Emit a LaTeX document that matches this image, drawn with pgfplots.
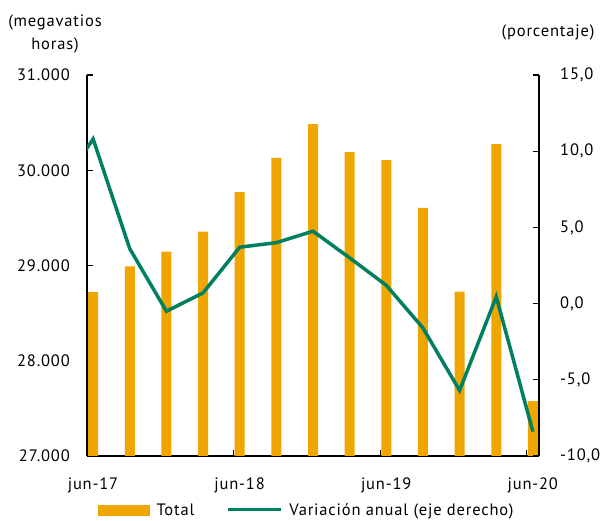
\documentclass[border=0pt]{standalone}
\usepackage{pgfplots}
\pgfplotsset{compat=1.18}
\usepackage{fontspec}
\setmainfont[LetterSpace=5]{PT Sans}
\definecolor{barc}{RGB}{240,166,0}
\definecolor{linec}{RGB}{0,128,96}
\begin{document}
\begin{tikzpicture}[font=\fontsize{16.5pt}{19pt}\selectfont]
\useasboundingbox (0,0) rectangle (604pt,521pt);
\begin{axis}[
  at={(87pt,65pt)}, anchor=south west,
  scale only axis, width=452pt, height=381pt,
  xmin=0, xmax=37, ymin=27000, ymax=31000,
  scaled y ticks=false,
  axis y line*=left, axis x line*=bottom,
  axis line style={-, line width=1.4pt, black},
  ytick={27000,28000,29000,30000,31000},
  yticklabels={27.000,28.000,29.000,30.000,31.000},
  xtick={0,12,24,36}, xticklabels={jun-17,jun-18,jun-19,jun-20},
  tick align=inside, major tick length=6pt,
  tick style={line width=1.2pt, black},
  xticklabel style={inner sep=0pt, anchor=north, xshift=6pt, yshift=-22pt},
  yticklabel style={inner sep=0pt, anchor=east, xshift=-17pt},
  clip=true,
]
\addplot[ybar, bar width=10pt, fill=barc, draw=none] coordinates {
(0.5,28720) (3.5,28990) (6.5,29145) (9.5,29355) (12.5,29770) (15.5,30130)
(18.5,30485) (21.5,30190) (24.5,30105) (27.5,29605) (30.5,28725) (33.5,30275) (36.5,27575)};
\end{axis}
\begin{axis}[
  at={(87pt,65pt)}, anchor=south west,
  scale only axis, width=452pt, height=381pt,
  xmin=0, xmax=37, ymin=-10, ymax=15,
  axis y line*=right, axis x line=none,
  axis line style={-, line width=1.4pt, black},
  ytick={-10,-5,0,5,10,15},
  yticklabels={{-10,0},{-5,0},{0,0},{5,0},{10,0},{15,0}},
  tick align=inside, major tick length=6pt,
  tick style={line width=1.2pt, black},
  yticklabel style={inner sep=0pt, anchor=west, xshift=21pt},
  legend columns=2,
  legend style={draw=none, fill=none, inner sep=0pt, at={(0,0)}, anchor=west, xshift=11pt, yshift=-54pt,
    nodes={inner sep=0pt},
    /tikz/every odd column/.append style={column sep=7pt},
    /tikz/every even column/.append style={column sep=32pt}},
]
\addlegendimage{legend image code/.code={\fill[barc] (0pt,-5pt) rectangle (51pt,5pt);}}
\addlegendentry{Total}
\addplot[linec, line width=3.5pt, legend image code/.code={\draw[linec, line width=3pt] (0pt,0pt) -- (53pt,0pt);}] coordinates {
(-2.5,7.2) (0.5,10.8) (3.5,3.6) (6.5,-0.5) (9.5,0.7) (12.5,3.7) (15.5,4.0) (18.5,4.75)
(21.5,3.0) (24.5,1.2) (27.5,-1.6) (30.5,-5.7) (33.5,0.45) (36.5,-8.4)};
\addlegendentry{Variación anual (eje derecho)}
\end{axis}
\node at (55pt,499pt) {(megavatios};
\node at (55pt,476pt) {horas)};
\node at (548pt,489pt) {(porcentaje)};
\end{tikzpicture}
\end{document}
